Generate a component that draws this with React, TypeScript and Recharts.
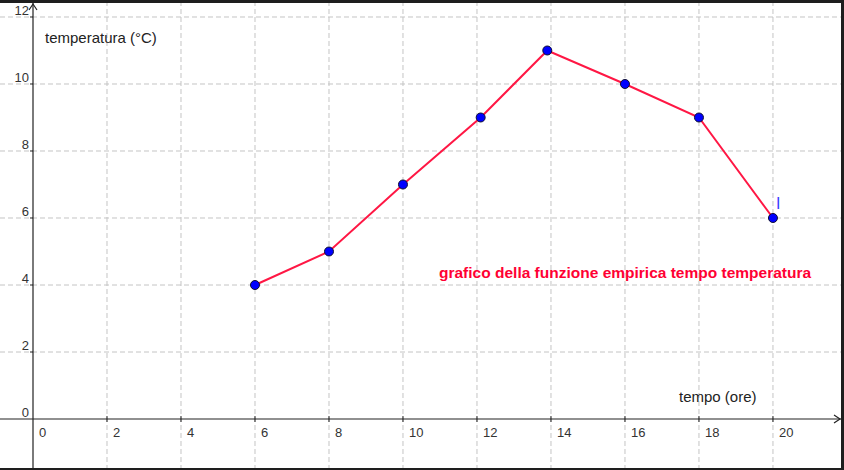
import { LineChart, Line, XAxis, YAxis, ReferenceLine, ReferenceDot } from "recharts";

// ore del giorno e temperature
const ore = [6, 8, 10, 12.1, 13.9, 16, 18, 20];
const temperature = [4, 5, 7, 9, 11, 10, 9, 6];

const xTicks = [0, 2, 4, 6, 8, 10, 12, 14, 16, 18, 20];
const yTicks = [0, 2, 4, 6, 8, 10, 12];

const X_DOMAIN: [number, number] = [-0.892, 21.92];
const Y_DOMAIN: [number, number] = [-1.522, 12.507];

const data = ore.map((x, i) => ({ x, t: temperature[i] }));

const FONT = "'Liberation Sans', Arial, sans-serif";
const AXIS = "#222";
const GRID = "#c4c4c4";

const XTickLabel = ({ cx, cy, value }: any) => (
  <g>
    {value !== 0 && <line x1={cx} y1={cy - 3} x2={cx} y2={cy + 3} stroke={AXIS} />}
    <text x={cx + 6} y={cy + 18} fontSize={13} fontFamily={FONT} fill="#333">
      {value}
    </text>
  </g>
);

const YTickLabel = ({ cx, cy, value }: any) => (
  <g>
    {value !== 0 && <line x1={cx - 3} y1={cy} x2={cx} y2={cy} stroke={AXIS} />}
    <text x={cx - 4} y={cy - 2} fontSize={13} fontFamily={FONT} fill="#333" textAnchor="end">
      {value}
    </text>
  </g>
);

const Punto = ({ cx, cy }: any) => (
  <circle cx={cx} cy={cy} r={4.5} fill="#0000ff" stroke="#101030" strokeWidth={1} />
);

export default function App() {
  return (
    <div style={{ position: "absolute", left: 0, top: 0, width: 844, height: 470, background: "#fff" }}>
      <LineChart width={844} height={470} data={data} margin={{ top: 0, right: 0, bottom: 0, left: 0 }}>
        <XAxis type="number" dataKey="x" domain={X_DOMAIN} hide allowDataOverflow />
        <YAxis type="number" domain={Y_DOMAIN} hide allowDataOverflow />

        {xTicks.filter((v) => v !== 0).map((v) => (
          <ReferenceLine key={"gx" + v} x={v} stroke={GRID} strokeDasharray="5 3" />
        ))}
        {yTicks.filter((v) => v !== 0).map((v) => (
          <ReferenceLine key={"gy" + v} y={v} stroke={GRID} strokeDasharray="5 3" />
        ))}

        <ReferenceLine x={0} stroke={AXIS} strokeWidth={1.2} />
        <ReferenceLine y={0} stroke={AXIS} strokeWidth={1.2} />

        <ReferenceDot
          x={0}
          y={Y_DOMAIN[1]}
          ifOverflow="visible"
          shape={({ cx, cy }: any) => (
            <path d={`M${cx - 4},${cy + 10} L${cx},${cy + 4} L${cx + 4},${cy + 10}`} fill="none" stroke={AXIS} strokeWidth={1.2} />
          )}
        />
        <ReferenceDot
          x={X_DOMAIN[1]}
          y={0}
          ifOverflow="visible"
          shape={({ cx, cy }: any) => (
            <path d={`M${cx - 10},${cy - 4} L${cx - 4},${cy} L${cx - 10},${cy + 4}`} fill="none" stroke={AXIS} strokeWidth={1.2} />
          )}
        />

        {xTicks.map((v) => (
          <ReferenceDot key={"tx" + v} x={v} y={0} ifOverflow="visible" shape={(p: any) => <XTickLabel {...p} value={v} />} />
        ))}
        {yTicks.map((v) => (
          <ReferenceDot key={"ty" + v} x={0} y={v} ifOverflow="visible" shape={(p: any) => <YTickLabel {...p} value={v} />} />
        ))}

        <Line
          type="linear"
          dataKey="t"
          stroke="#ff1744"
          strokeWidth={2}
          dot={<Punto />}
          activeDot={false}
          isAnimationActive={false}
        />
      </LineChart>

      <svg width={844} height={470} style={{ position: "absolute", left: 0, top: 0, pointerEvents: "none" }}>
        <text x={45} y={43} fontSize={15} fontFamily={FONT} fill="#222">temperatura (°C)</text>
        <text x={679} y={402} fontSize={15} fontFamily={FONT} fill="#222">tempo (ore)</text>
        <text x={439} y={278} fontSize={15.5} fontWeight="bold" fontFamily={FONT} fill="#ff0033">
          grafico della funzione empirica tempo temperatura
        </text>
        <text x={776} y={209} fontSize={16} fontFamily={FONT} fill="#3a3aff">I</text>
        <rect x={0} y={0} width={844} height={3} fill="#1e1e1e" />
        <rect x={841} y={0} width={3} height={470} fill="#1e1e1e" />
        <rect x={0} y={468} width={844} height={2} fill="#1e1e1e" />
      </svg>
    </div>
  );
}
